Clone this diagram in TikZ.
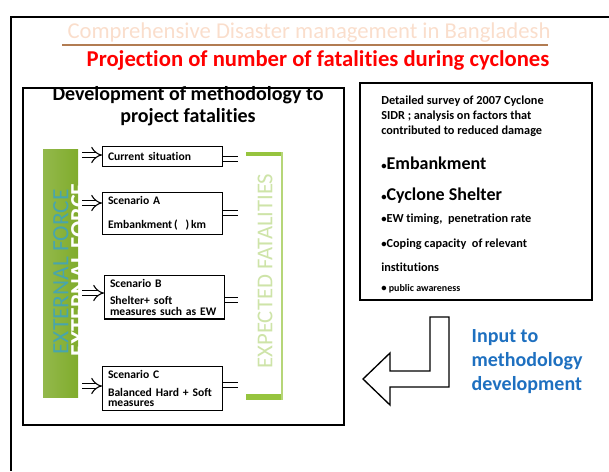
\documentclass[tikz,border=0pt]{standalone}
\usepackage{fontspec}
\setmainfont{Carlito}[Ligatures=NoCommon]
\usetikzlibrary{arrows.meta,positioning}

\definecolor{titlered}{RGB}{255,0,0}
\definecolor{inputblue}{RGB}{30,112,192}
\definecolor{forcelight}{RGB}{182,215,96}
\definecolor{forcedark}{RGB}{128,172,44}
\definecolor{forceteal}{RGB}{72,165,172}
\definecolor{fatalgreen}{RGB}{206,228,168}
\definecolor{bargreen}{RGB}{150,196,62}
\definecolor{headpeach}{RGB}{250,222,204}
\definecolor{rulebrown}{RGB}{178,124,82}

\newcommand{\smallbul}{{\fontsize{8}{8}\selectfont•}}

\tikzset{
	scenbox/.style={draw, line width=1pt, anchor=north west, minimum width=90pt,
		align=left, inner xsep=4pt, inner ysep=1pt, text width=82pt,
		font=\fontsize{8.7}{8.2}\selectfont\bfseries},
	feedarrow/.style={double, double distance=3.5pt, line width=0.8pt, -{Implies}},
	outlink/.style={double, double distance=3.5pt, line width=0.8pt},
	infotext/.style={anchor=west, inner sep=0pt, align=left, font=\fontsize{9.2}{11.25}\selectfont\bfseries},
	bullettext/.style={anchor=west, inner sep=0pt, font=\fontsize{13.5}{14}\selectfont\bfseries},
}

\begin{document}
\begin{tikzpicture}[x=0.75pt, y=-0.75pt]
	\useasboundingbox (0,0) rectangle (609,471);
	% slide frame
	\draw[line width=2pt] (609,17) -- (11,17) -- (11,471);
	% heading
	\node[text=headpeach, font=\fontsize{17}{17}\selectfont] (header) at (309,33) {Comprehensive Disaster management in Bangladesh};
	\draw[rulebrown, line width=1.5pt] (62,45) -- (548,45);
	\node[text=titlered, font=\fontsize{17}{17}\selectfont\bfseries] (title) at (318,60) {Projection of number of fatalities during cyclones};

	% methodology block
	\draw[line width=1pt] (23,88) rectangle (344,425);
	\node[align=center, font=\fontsize{15}{16.5}\selectfont\bfseries] (devtitle) at (188,106) {Development of methodology to\\project fatalities};

	\shade[left color=forcedark!85, middle color=forcelight, right color=forcedark] (43,149) rectangle (78,397);
	\node[rotate=90, text=forceteal, font=\fontsize{17.5}{17.5}\selectfont] (force) at (61,272) {EXTERNAL FORCE};
	\node[rotate=90, text=white, font=\fontsize{18}{18}\selectfont\bfseries] (forcewhite) at (79,270) {EXTERNAL FORCE};

	\fill[white] (246,152) rectangle (283,400);
	\fill[bargreen] (246,152) rectangle (283,156);
	\fill[bargreen] (246,394) rectangle (283,400);
	\draw[bargreen!70, line width=0.8pt] (282,152) -- (282,400);
	\node[rotate=90, text=fatalgreen, font=\fontsize{17}{17}\selectfont] (fatal) at (265,271) {EXPECTED FATALITIES};

	\node[scenbox, minimum height=15pt] (cur) at (102,146) {Current situation};
	\node[scenbox, minimum height=31.5pt] (scA) at (102,192) {Scenario A\\[10pt]Embankment\,(\ \ )\,km};
	\node[scenbox, minimum height=32.5pt] (scB) at (104,275) {Scenario B\\[5pt]Shelter+ soft\\measures such as EW};
	\node[scenbox, minimum height=33pt] (scC) at (102,366) {Scenario C\\[5pt]Balanced Hard + Soft\\measures};

	\coordinate (inCur) at (82,155);
	\coordinate (inA) at (82,203);
	\coordinate (inB) at (82,293);
	\coordinate (inC) at (82,386);
	\draw[feedarrow] (inCur) -- (inCur -| cur.west);
	\draw[feedarrow] (inA) -- (inA -| scA.west);
	\draw[feedarrow] (inB) -- (inB -| scB.west);
	\draw[feedarrow] (inC) -- (inC -| scC.west);

	\coordinate (outCur) at (238,159);
	\coordinate (outA) at (238,213);
	\coordinate (outB) at (238,300);
	\coordinate (outC) at (238,385);
	\draw[outlink] (outCur -| cur.east) -- (outCur);
	\draw[outlink] (outA -| scA.east) -- (outA);
	\draw[outlink] (outB -| scB.east) -- (outB);
	\draw[outlink] (outC -| scC.east) -- (outC);

	% survey block
	\draw[line width=1.3pt] (360,83) rectangle (592,300);
	\node[infotext] (survey) at (381,116) {Detailed survey of 2007 Cyclone\\SIDR ; analysis on factors that\\contributed to reduced damage};
	\node[bullettext] (embank) at (381,163) {\smallbul Embankment};
	\node[bullettext] (shelter) at (381,196) {\smallbul Cyclone Shelter};
	\node[infotext] (ewtime) at (381,219) {\smallbul EW timing, \ penetration rate};
	\node[infotext] (coping) at (381,244) {\smallbul Coping capacity \ of relevant};
	\node[infotext] (inst) at (381,267) {institutions};
	\node[infotext, font=\fontsize{7.5}{8}\selectfont\bfseries] (aware) at (381,289) {\smallbul\ public awareness};

	% feedback arrow
	\draw[line width=1pt, fill=white] (430,317) -- (449,317) -- (449,387) -- (390,387) -- (390,405)
		-- (363,379) -- (390,353) -- (390,371) -- (430,371) -- cycle;
	\node[anchor=west, align=left, text=inputblue, font=\fontsize{15}{18}\selectfont\bfseries] (input) at (467,362) {Input to\\methodology\\development};
\end{tikzpicture}
\end{document}
